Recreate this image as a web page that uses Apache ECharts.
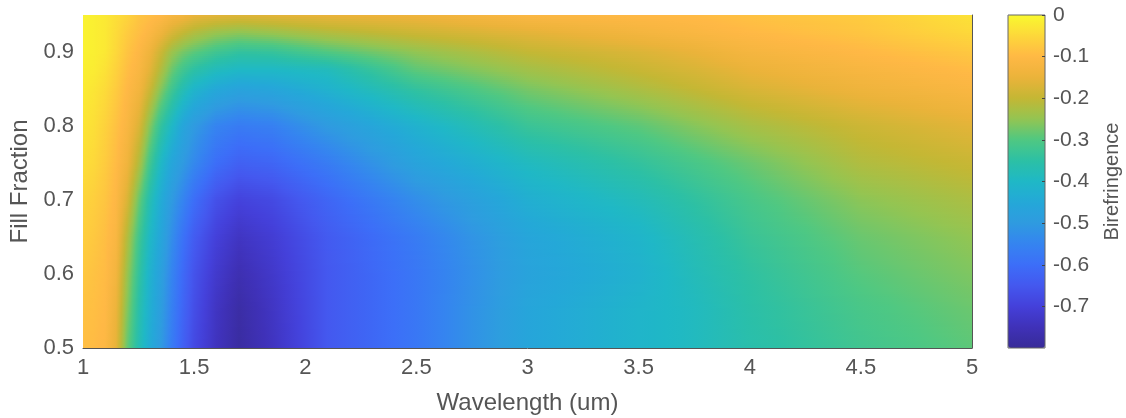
<!DOCTYPE html>
<html><head><meta charset="utf-8">
<style>html,body{margin:0;padding:0;background:#fff}#c{width:1126px;height:418px}</style>
<script src="https://cdn.jsdelivr.net/npm/echarts@6/dist/echarts.min.js"></script>
</head><body><div id="c"></div>
<script>
const wavelengths = [1,1.05,1.1,1.15,1.2,1.25,1.3,1.35,1.4,1.45,1.5,1.6,1.7,1.85,2.1,2.5,3,3.5,3.75,4,4.5,5];
const fillFractions = [0.5,0.55,0.6,0.65,0.7,0.75,0.8,0.85,0.875,0.9,0.925,0.95];
const birefringence = [
[-.09,-.095,-.105,-.155,-.28,-.37,-.44,-.5,-.57,-.63,-.68,-.74,-.785,-.74,-.65,-.58,-.46,-.41,-.39,-.36,-.32,-.29],
[-.085,-.09,-.1,-.145,-.26,-.36,-.43,-.49,-.56,-.62,-.67,-.735,-.78,-.735,-.65,-.58,-.46,-.41,-.39,-.355,-.31,-.28],
[-.075,-.085,-.095,-.13,-.24,-.34,-.42,-.48,-.55,-.61,-.66,-.72,-.76,-.725,-.65,-.58,-.47,-.42,-.38,-.345,-.295,-.265],
[-.065,-.075,-.09,-.115,-.215,-.32,-.4,-.46,-.53,-.59,-.64,-.7,-.735,-.71,-.645,-.57,-.46,-.41,-.37,-.33,-.28,-.25],
[-.055,-.065,-.08,-.105,-.17,-.28,-.37,-.44,-.5,-.55,-.6,-.665,-.695,-.68,-.62,-.53,-.43,-.38,-.345,-.31,-.255,-.225],
[-.04,-.05,-.07,-.095,-.135,-.22,-.32,-.4,-.46,-.5,-.54,-.6,-.63,-.62,-.57,-.47,-.39,-.34,-.31,-.28,-.22,-.195],
[-.03,-.04,-.06,-.085,-.115,-.17,-.26,-.34,-.4,-.46,-.5,-.55,-.57,-.56,-.5,-.42,-.33,-.29,-.26,-.23,-.19,-.16],
[-.02,-.03,-.045,-.07,-.1,-.13,-.19,-.26,-.32,-.37,-.41,-.45,-.47,-.46,-.42,-.34,-.27,-.225,-.2,-.175,-.14,-.115],
[-.015,-.02,-.035,-.06,-.09,-.115,-.16,-.22,-.28,-.32,-.35,-.385,-.4,-.4,-.385,-.29,-.235,-.195,-.175,-.15,-.12,-.095],
[-.01,-.015,-.025,-.05,-.08,-.105,-.14,-.19,-.24,-.27,-.29,-.32,-.34,-.335,-.3,-.25,-.2,-.17,-.15,-.125,-.1,-.075],
[-.01,-.015,-.025,-.045,-.07,-.09,-.11,-.14,-.175,-.2,-.22,-.245,-.255,-.245,-.22,-.19,-.16,-.13,-.115,-.1,-.08,-.05],
[-.01,-.015,-.025,-.04,-.055,-.08,-.09,-.1,-.12,-.13,-.15,-.16,-.165,-.16,-.15,-.14,-.11,-.1,-.095,-.085,-.07,-.035]
];
const fillTicks = [0.5,0.6,0.7,0.8,0.9];
const colorMin = -0.8, colorMax = 0;
const palette = ['#382b98','#3f31b8','#4440da','#4458ef','#3c6ef8','#3584f0','#2f9be0','#24a8d8','#1fb8c6','#2cc0a5','#4fc882','#93c552','#c4b734','#ebb33a','#ffb845','#fdd83a','#f9f92e'];

const rgb = palette.map(h => [1,3,5].map(i => parseInt(h.substr(i,2),16)));
function colorOf(v){
  const t = Math.max(0,Math.min(1,(v-colorMin)/(colorMax-colorMin)))*(rgb.length-1);
  const i = Math.min(rgb.length-2,Math.floor(t)), f = t-i;
  const c = [0,1,2].map(k => Math.round(rgb[i][k]+(rgb[i+1][k]-rgb[i][k])*f));
  return 'rgb('+c.join(',')+')';
}
const cells = [];
fillFractions.forEach((f,r) => wavelengths.forEach((w,c) => cells.push([w,f,birefringence[r][c],c,r])));

// MATLAB "shading interp" style: each cell is shaded between the values at its corners.
function renderCell(params, api){
  const c = api.value(3), r = api.value(4);
  if (c >= wavelengths.length-1 || r >= fillFractions.length-1) return null;
  const p0 = api.coord([wavelengths[c],fillFractions[r]]);
  const p1 = api.coord([wavelengths[c+1],fillFractions[r+1]]);
  const x0 = Math.round(p0[0]), x1 = Math.round(p1[0]);
  const yb = Math.round(p0[1]), yt = Math.round(p1[1]);
  const children = [];
  const stops = 4, step = 2;
  for (let y = yt; y < yb; y += step){
    const h = Math.min(step, yb-y);
    const t = (yb-(y+h/2))/(yb-yt);
    const vl = birefringence[r][c]+(birefringence[r+1][c]-birefringence[r][c])*t;
    const vr = birefringence[r][c+1]+(birefringence[r+1][c+1]-birefringence[r][c+1])*t;
    const cs = [];
    for (let s = 0; s <= stops; s++) cs.push({offset:s/stops,color:colorOf(vl+(vr-vl)*s/stops)});
    children.push({type:'rect',shape:{x:x0,y:y,width:x1-x0,height:h},
      style:{fill:new echarts.graphic.LinearGradient(x0,0,x1,0,cs,true)}});
  }
  return {type:'group',children};
}
const font = 'Liberation Sans', ink = '#555555';
const chart = echarts.init(document.getElementById('c'),null,{renderer:'canvas'});
chart.setOption({
  animation:false,
  backgroundColor:'#fff',
  grid:[
    {left:83,width:889,top:15,height:333,outerBoundsMode:'none'},
    {left:1008,width:37,top:15,height:333,z:10,show:true,backgroundColor:'transparent',borderColor:'#666',borderWidth:1,outerBoundsMode:'none'}
  ],
  xAxis:[
    {gridIndex:0,type:'value',min:1,max:5,interval:0.5,z:5,
     name:'Wavelength (um)',nameLocation:'middle',nameGap:43,
     nameTextStyle:{fontFamily:font,fontSize:24,color:ink},
     axisLine:{show:true,lineStyle:{color:'#555',width:1}},axisTick:{show:false},splitLine:{show:false},
     axisLabel:{fontFamily:font,fontSize:22,color:ink,margin:9,hideOverlap:false}},
    {gridIndex:1,type:'value',min:0,max:1,show:false}
  ],
  yAxis:[
    {gridIndex:0,type:'value',min:0.5,max:0.95,z:5,
     name:'Fill Fraction',nameLocation:'middle',nameGap:51,
     nameTextStyle:{fontFamily:font,fontSize:24,color:ink},
     axisLine:{show:false},axisTick:{show:false},splitLine:{show:false},
     axisLabel:{fontFamily:font,fontSize:22,color:ink,margin:9,customValues:fillTicks}},
    {gridIndex:0,type:'value',min:0.5,max:0.95,position:'right',z:5,
     axisLine:{show:true,onZero:false,lineStyle:{color:'#555',width:1}},axisTick:{show:false},axisLabel:{show:false},splitLine:{show:false}},
    {gridIndex:1,type:'value',min:colorMin,max:colorMax,interval:0.1,position:'right',z:11,
     name:'Birefringence',nameLocation:'middle',nameGap:57,nameRotate:90,
     nameTextStyle:{fontFamily:font,fontSize:20,color:ink},
     axisLine:{show:false,onZero:false},
     axisTick:{show:true,inside:true,length:3,lineStyle:{color:'#444',width:1}},
     splitLine:{show:false},
     axisLabel:{fontFamily:font,fontSize:21,color:ink,margin:8,
       showMinLabel:false,
       formatter:v=>String(Math.round(v*10)/10)}}
  ],
  visualMap:{type:'continuous',min:colorMin,max:colorMax,dimension:2,seriesIndex:0,
    left:1008,top:15,itemWidth:37,itemHeight:333,padding:0,calculable:false,text:null,showLabel:false,
    inRange:{color:palette},z:4,textStyle:{color:'transparent',fontSize:1}},
  series:[{type:'custom',xAxisIndex:0,yAxisIndex:0,coordinateSystem:'cartesian2d',silent:true,
    data:cells,encode:{x:0,y:1},renderItem:renderCell}]
});
</script></body></html>
